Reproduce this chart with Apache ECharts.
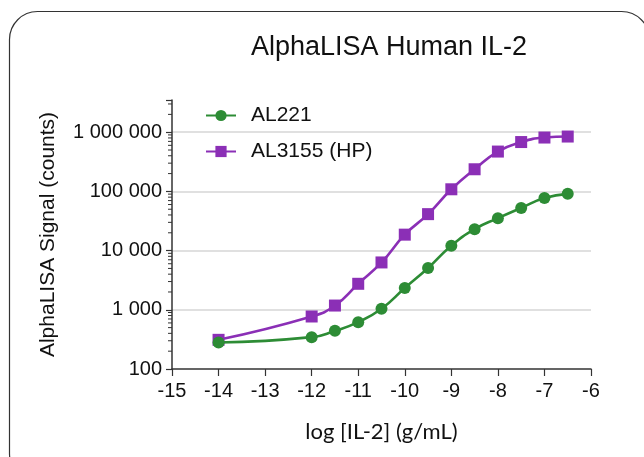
<!DOCTYPE html>
<html>
<head>
<meta charset="utf-8">
<title>AlphaLISA Human IL-2</title>
<script src="https://cdn.jsdelivr.net/npm/echarts@6/dist/echarts.min.js"></script>
<style>
  html, body { margin: 0; padding: 0; background: #fff; }
  #chart { width: 644px; height: 457px; }
</style>
</head>
<body>
<div id="chart"></div>
<script>
// log [IL-2] (g/mL)
const logConc = [-14, -12, -11.5, -11, -10.5, -10, -9.5, -9, -8.5, -8, -7.5, -7, -6.5];
// signal counts
const al221 = [280, 345, 441, 619, 1040, 2330, 5080, 12100, 23000, 35300, 52600, 77100, 91000];
const al3155 = [311, 771, 1180, 2750, 6310, 18600, 41300, 108600, 236600, 471000, 682000, 813000, 845000];
const xMin = -15, xMax = -6;
const yMin = 100, yMax = 3500000;
const decades = [100, 1000, 10000, 100000, 1000000];
const minorMults = [2, 3, 4, 5, 6, 7, 8, 9];

const GREEN = '#2d8c35';
const PURPLE = '#8b2fb6';
const AXIS = '#333';
const FONT = 'Liberation Sans, Arial, Helvetica, sans-serif';

// minor tick positions (2..9 x each decade)
const minorTicks = [];
decades.forEach(function (d) {
    minorMults.forEach(function (m) {
        if (d * m < yMax) minorTicks.push([xMin, d * m]);
    });
});

function pairs(ys) {
    return logConc.map(function (x, i) { return [x, ys[i]]; });
}

function fmtCounts(v) {
    const r = Math.round(v);
    if (decades.indexOf(r) < 0) return '';
    return String(r).replace(/\B(?=(\d{3})+(?!\d))/g, ' ');
}

const chart = echarts.init(document.getElementById('chart'), null, { renderer: 'canvas' });

const option = {
    backgroundColor: '#fff',
    animation: false,
    textStyle: { fontFamily: FONT },
    graphic: [{
        type: 'rect',
        shape: { x: 9.5, y: 11.5, width: 640, height: 470, r: 28 },
        style: { fill: 'none', stroke: '#333', lineWidth: 1.2 },
        silent: true
    }],
    title: {
        text: 'AlphaLISA Human IL-2',
        left: 384,
        top: 29,
        textAlign: 'center',
        textStyle: { fontSize: 27, fontWeight: 'normal', color: '#111', fontFamily: FONT }
    },
    legend: {
        data: ['AL221', 'AL3155 (HP)'],
        orient: 'vertical',
        left: 200,
        top: 100,
        itemWidth: 30,
        itemHeight: 14,
        itemGap: 15,
        textStyle: { fontSize: 21, color: '#111', padding: [0, 0, 0, 10], fontFamily: FONT }
    },
    grid: { left: 172, right: 53, top: 100, bottom: 88 },
    xAxis: {
        type: 'value',
        min: xMin,
        max: xMax,
        interval: 1,
        name: 'log [IL-2] (g/mL)',
        nameLocation: 'middle',
        nameGap: 52,
        nameTextStyle: { fontSize: 22, color: '#111', fontFamily: 'Lato, ' + FONT },
        axisLine: { lineStyle: { color: AXIS, width: 1.5 } },
        axisTick: { length: 7, lineStyle: { color: AXIS, width: 1.2 } },
        axisLabel: { fontSize: 20, color: '#111', margin: 12 },
        splitLine: { show: false }
    },
    yAxis: {
        type: 'log',
        logBase: 10,
        min: yMin,
        max: yMax,
        name: 'AlphaLISA Signal (counts)',
        nameLocation: 'middle',
        nameGap: 113,
        nameTextStyle: { fontSize: 21, color: '#111', fontFamily: FONT },
        axisLine: { show: true, lineStyle: { color: AXIS, width: 1.5 } },
        axisTick: { length: 6, lineStyle: { color: AXIS, width: 1.2 } },
        axisLabel: { fontSize: 20, color: '#111', margin: 10, formatter: fmtCounts },
        splitLine: {
            show: true,
            showMinLine: false,
            showMaxLine: false,
            lineStyle: { color: '#d6d6d6', width: 1.5 }
        }
    },
    series: [
        {
            name: 'minor',
            type: 'custom',
            silent: true,
            clip: false,
            data: minorTicks,
            renderItem: function (params, api) {
                const p = api.coord([xMin, api.value(1)]);
                return {
                    type: 'line',
                    shape: { x1: p[0] - 4, y1: p[1], x2: p[0], y2: p[1] },
                    style: { stroke: AXIS, lineWidth: 1 }
                };
            }
        },
        {
            name: 'AL221',
            type: 'line',
            data: pairs(al221),
            smooth: 0.5,
            symbol: 'circle',
            symbolSize: 12,
            color: GREEN,
            lineStyle: { color: GREEN, width: 2.6 },
            itemStyle: { color: GREEN },
            z: 3
        },
        {
            name: 'AL3155 (HP)',
            type: 'line',
            data: pairs(al3155),
            smooth: 0.5,
            symbol: 'rect',
            symbolSize: 12,
            color: PURPLE,
            lineStyle: { color: PURPLE, width: 2.6 },
            itemStyle: { color: PURPLE },
            z: 2
        }
    ]
};

chart.setOption(option);

window.addEventListener('resize', function () {
    chart.resize();
});
</script>
</body>
</html>
